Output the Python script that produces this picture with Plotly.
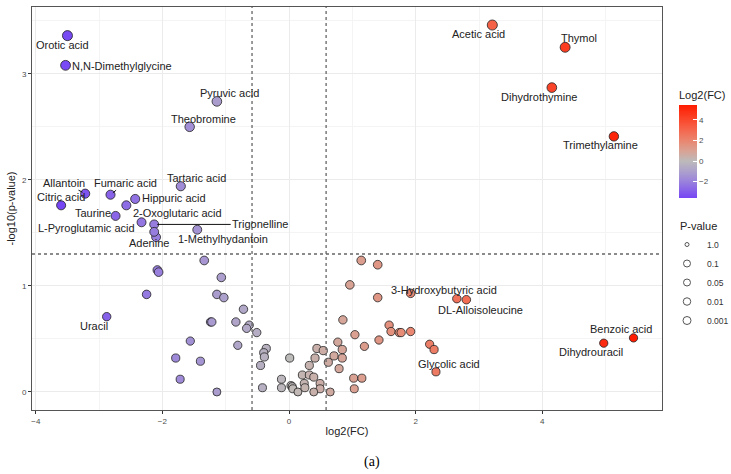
import numpy as np
import plotly.graph_objects as go

# ---- data: labelled metabolites ----
lab_names = ["Orotic acid", "N,N-Dimethylglycine", "Pyruvic acid", "Theobromine",
             "Tartaric acid", "Allantoin", "Fumaric acid", "Citric acid",
             "Hippuric acid", "Taurine", "2-Oxoglutaric acid", "L-Pyroglutamic acid",
             "Trigonelline", "1-Methylhydantoin", "Adenine", "Uracil",
             "Acetic acid", "Thymol", "Dihydrothymine", "Trimethylamine",
             "3-Hydroxybutyric acid", "DL-Alloisoleucine", "Glycolic acid",
             "Benzoic acid", "Dihydrouracil"]
lab_fc = [-3.50, -3.53, -1.14, -1.57, -1.71, -3.22, -2.82, -3.60, -2.43, -2.74,
          -2.57, -2.33, -2.13, -1.45, -2.10, -2.88, 3.21, 4.36, 4.15, 5.13,
          1.92, 2.80, 2.32, 5.44, 4.97]
lab_p = [3.36, 3.08, 2.74, 2.50, 1.94, 1.87, 1.86, 1.76, 1.82, 1.66,
         1.76, 1.60, 1.58, 1.53, 1.46, 0.71, 3.46, 3.25, 2.87, 2.41,
         0.93, 0.87, 0.19, 0.51, 0.46]

# ---- data: unlabelled metabolites ----
unl_fc = [-2.13, -1.34, -2.08, -2.06, -1.07, -2.25, -1.14, -1.03, -0.72, -1.24,
          -1.22, -0.84, -0.63, -0.67, -0.51, -1.56, -0.81, -1.79, -1.40, -1.72,
          -1.14, -0.36, -0.40, -0.39, -0.45, -0.42, 0.01, -0.12, -0.12, 0.03,
          0.05, 0.06, 0.14, 0.44, 0.54, 0.41, 0.32, 0.21, 0.32, 0.39,
          0.24, 0.25, 0.49, 0.49, 0.39, 0.62, 0.65, 0.71, 0.77, 0.84,
          0.84, 0.79, 0.85, 0.96, 1.04, 1.19, 1.02, 1.15, 1.03, 1.14,
          1.40, 1.40, 2.65, 1.58, 1.61, 1.74, 1.77, 1.92, 1.42, 2.22, 2.29]
unl_p = [1.51, 1.24, 1.15, 1.13, 1.08, 0.92, 0.92, 0.89, 0.78, 0.66,
         0.66, 0.66, 0.63, 0.60, 0.56, 0.48, 0.44, 0.32, 0.29, 0.12,
         0.00, 0.41, 0.37, 0.33, 0.25, 0.04, 0.32, 0.12, 0.04, 0.06,
         0.05, 0.03, 0.00, 0.41, 0.39, 0.32, 0.25, 0.16, 0.16, 0.14,
         0.08, 0.04, 0.08, 0.03, 0.00, 0.28, 0.00, 0.34, 0.47, 0.40,
         0.32, 0.22, 0.68, 1.01, 0.54, 0.43, 0.13, 0.13, 0.03, 1.24,
         1.20, 0.89, 0.88, 0.63, 0.57, 0.56, 0.56, 0.57, 0.49, 0.45, 0.40]

xticks = [-4, -2, 0, 2, 4]
yticks = [0, 1, 2, 3]
cbar_ticks = [-2, 0, 2, 4]
p_legend = ["1.0", "0.1", "0.05", "0.01", "0.001"]

# ---- label offsets (pixels: dx right, dy down) and which get a segment ----
label_offsets = {
    "Orotic acid": (-5, 9), "N,N-Dimethylglycine": (56, 1), "Pyruvic acid": (13, -8),
    "Theobromine": (14, -8), "Tartaric acid": (16, -8), "Allantoin": (-21, -11),
    "Fumaric acid": (15, -12), "Citric acid": (0, -8), "Hippuric acid": (39, -1),
    "Taurine": (-23, -3), "2-Oxoglutaric acid": (51, 8), "L-Pyroglutamic acid": (-55, 6),
    "Trigonelline": (106, 0), "1-Methylhydantoin": (26, 9), "Adenine": (-7, 6),
    "Uracil": (-13, 9), "Acetic acid": (-14, 9), "Thymol": (14, -9),
    "Dihydrothymine": (-13, 9), "Trimethylamine": (-13, 9),
    "3-Hydroxybutyric acid": (33, -3), "DL-Alloisoleucine": (14, 10),
    "Glycolic acid": (13, -8), "Benzoic acid": (-13, -9), "Dihydrouracil": (-13, 9),
}
segment_labels = {"Allantoin", "Fumaric acid", "Trigonelline"}

all_fc = np.array(lab_fc + unl_fc)
all_p = np.array(lab_p + unl_p)
sizes = 8 + 0.6 * all_p

cmin, cmax = -3.6, 5.45
def pos(v):
    return (v - cmin) / (cmax - cmin)
colorscale = [
    [0.0, "#7646F5"],
    [pos(-2), "#9A82DC"],
    [pos(-1), "#ADA1CC"],
    [pos(0), "#BDBABA"],
    [pos(1), "#D9A293"],
    [pos(2), "#EA856F"],
    [pos(3.5), "#F8583D"],
    [1.0, "#FF1C00"],
]

fig = go.Figure()
fig.add_trace(go.Scatter(
    x=all_fc, y=all_p, mode="markers", showlegend=False, hoverinfo="skip",
    marker=dict(size=sizes, color=all_fc, colorscale=colorscale, cmin=cmin, cmax=cmax,
                line=dict(color="#222222", width=0.8), opacity=1,
                colorbar=dict(
                    title=dict(text="Log2(FC)", side="top",
                               font=dict(size=11, color="#222")),
                    tickvals=cbar_ticks, ticks="inside", tickcolor="white", ticklen=4,
                    tickfont=dict(size=8, color="#4d4d4d"),
                    thickness=18, lenmode="pixels", len=110,
                    x=1.027, xanchor="left", xpad=0, y=(410 - 198) / 403,
                    yanchor="bottom", ypad=0, outlinewidth=0)),
))

legend_sizes = [4, 7, 7, 7.5, 8]
for lbl, s in zip(p_legend, legend_sizes):
    fig.add_trace(go.Scatter(
        x=[None], y=[None], mode="markers", name=lbl, showlegend=True,
        marker=dict(size=s, color="white", line=dict(color="#555", width=1))))

annotations = []
for n, xv, yv in zip(lab_names, lab_fc, lab_p):
    dx, dy = label_offsets[n]
    if n in segment_labels:
        annotations.append(dict(x=xv, y=yv, text=n, showarrow=True, ax=dx, ay=dy,
                                arrowhead=0, arrowwidth=1, arrowcolor="#111",
                                standoff=3, font=dict(size=11, color="#222")))
    else:
        annotations.append(dict(x=xv, y=yv, text=n, showarrow=False,
                                xshift=dx, yshift=-dy, font=dict(size=11, color="#222")))
annotations.append(dict(xref="paper", yref="paper", x=0.54, y=-0.129, text="(a)",
                        showarrow=False, yanchor="middle",
                        font=dict(family="Liberation Serif", size=14, color="black")))
annotations.append(dict(xref="paper", yref="paper", x=(678 - 32) / 630,
                        y=(410 - 226) / 403, text="P-value", showarrow=False,
                        xanchor="left", yanchor="middle",
                        font=dict(size=11, color="#222")))

fc_thr = np.log2(1.5)
p_thr = -np.log10(0.05)
shapes = [
    dict(type="line", xref="x", yref="paper", x0=-fc_thr, x1=-fc_thr, y0=0, y1=1,
         line=dict(color="#666", width=1.3, dash="dot")),
    dict(type="line", xref="x", yref="paper", x0=fc_thr, x1=fc_thr, y0=0, y1=1,
         line=dict(color="#666", width=1.3, dash="dot")),
    dict(type="line", xref="paper", yref="y", x0=0, x1=1, y0=p_thr, y1=p_thr,
         line=dict(color="#666", width=1.3, dash="dot")),
]

axis_common = dict(showline=True, mirror=True, linecolor="#555", linewidth=1,
                   ticks="outside", ticklen=3, tickcolor="#333",
                   tickfont=dict(size=8, color="#4d4d4d"),
                   showgrid=True, gridcolor="#EBEBEB", gridwidth=1, zeroline=False)

fig.update_layout(
    width=731, height=474,
    margin=dict(l=32, r=69, t=7, b=64, autoexpand=False),
    paper_bgcolor="white", plot_bgcolor="white",
    font=dict(family="Liberation Sans, Arial", color="#222"),
    xaxis=dict(range=[-4.06, 5.89], tickvals=xticks, automargin=False,
               minor=dict(showgrid=True, gridcolor="#F4F4F4", dtick=1, tick0=-3),
               title=dict(text="log2(FC)", font=dict(size=11, color="#222"), standoff=2),
               **axis_common),
    yaxis=dict(range=[-0.17, 3.63], tickvals=yticks, automargin=False,
               minor=dict(showgrid=True, gridcolor="#F4F4F4", dtick=0.5, tick0=0.5),
               title=dict(text="-log10(p-value)", font=dict(size=11, color="#222"),
                          standoff=4),
               **axis_common),
    legend=dict(x=(667 - 32) / 630, xanchor="left", y=(410 - 230) / 403, yanchor="top",
                font=dict(size=8.5, color="#333"), itemsizing="trace", itemwidth=30,
                bgcolor="rgba(0,0,0,0)", tracegroupgap=0),
    annotations=annotations,
    shapes=shapes,
)

fig.write_html("out.html")
